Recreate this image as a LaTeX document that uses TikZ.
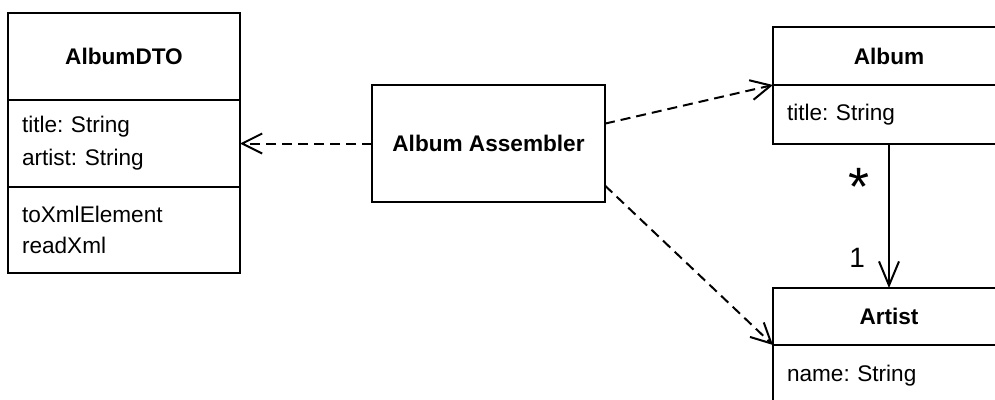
\documentclass[tikz,border=0pt]{standalone}
\usepackage{fontspec}
\setmainfont{Liberation Sans}
\usetikzlibrary{calc,positioning,arrows.meta}

\begin{document}
\begin{tikzpicture}[x=1pt,y=-1pt,line width=2pt,font=\fontsize{22.6}{31}\selectfont\frenchspacing,
  cls/.style={draw,rectangle,outer sep=0pt,inner xsep=14pt,inner ysep=0pt,minimum width=232pt,text width=204pt,anchor=north west},
  clshead/.style={cls,align=center,font=\fontsize{22.6}{31}\selectfont\bfseries},
  clsbody/.style={cls,align=left},
  dep/.style={-{Straight Barb[length=20pt,width=20pt]},dash pattern=on 10pt off 6pt},
  assoc/.style={-{Straight Barb[length=24pt,width=20pt]}},
  mult/.style={font=\fontsize{28}{30}\selectfont,inner sep=0pt}]
\useasboundingbox (0,0) rectangle (995,399);
\clip (0,0) rectangle (995,399);
% data transfer object
\node[clshead,minimum height=87pt] (dto) at (8,13) {AlbumDTO};
\node[clsbody,minimum height=87pt,font=\fontsize{22.6}{33}\selectfont\frenchspacing] (dtoattr) at (dto.south west) {title: String\\artist: String};
\node[clsbody,minimum height=86pt] (dtoops) at (dtoattr.south west) {toXmlElement\\readXml};
% assembler in the middle
\node[draw,outer sep=0pt,minimum width=233pt,minimum height=117pt,font=\fontsize{22.6}{31}\selectfont\bfseries]
  (assembler) at (488.5,143.5) {Album Assembler};
% domain objects, cut off at the right edge
\node[clshead,minimum height=58pt] (album) at (773,27) {Album};
\node[clsbody,minimum height=59pt] (albumattr) at (album.south west) {title: String};
\node[clshead,minimum height=57pt] (artist) at (773,288) {Artist};
\node[clsbody,minimum height=62pt] (artistattr) at (artist.south west) {name: String};
\draw[dep] (assembler.west) -- (dtoattr.east);
\draw[dep] ($(assembler.north east)!0.33!(assembler.south east)$) -- (albumattr.north west);
\draw[dep] ($(assembler.north east)!0.86!(assembler.south east)$) -- (artistattr.north west);
\draw[assoc] (albumattr.south) -- (artist.north)
  node[mult,font=\fontsize{54}{54}\selectfont,pos=0.43,anchor=base east,xshift=-18pt] (many) {*}
  node[mult,pos=0.79,left=23pt] (one) {1};
\end{tikzpicture}
\end{document}
